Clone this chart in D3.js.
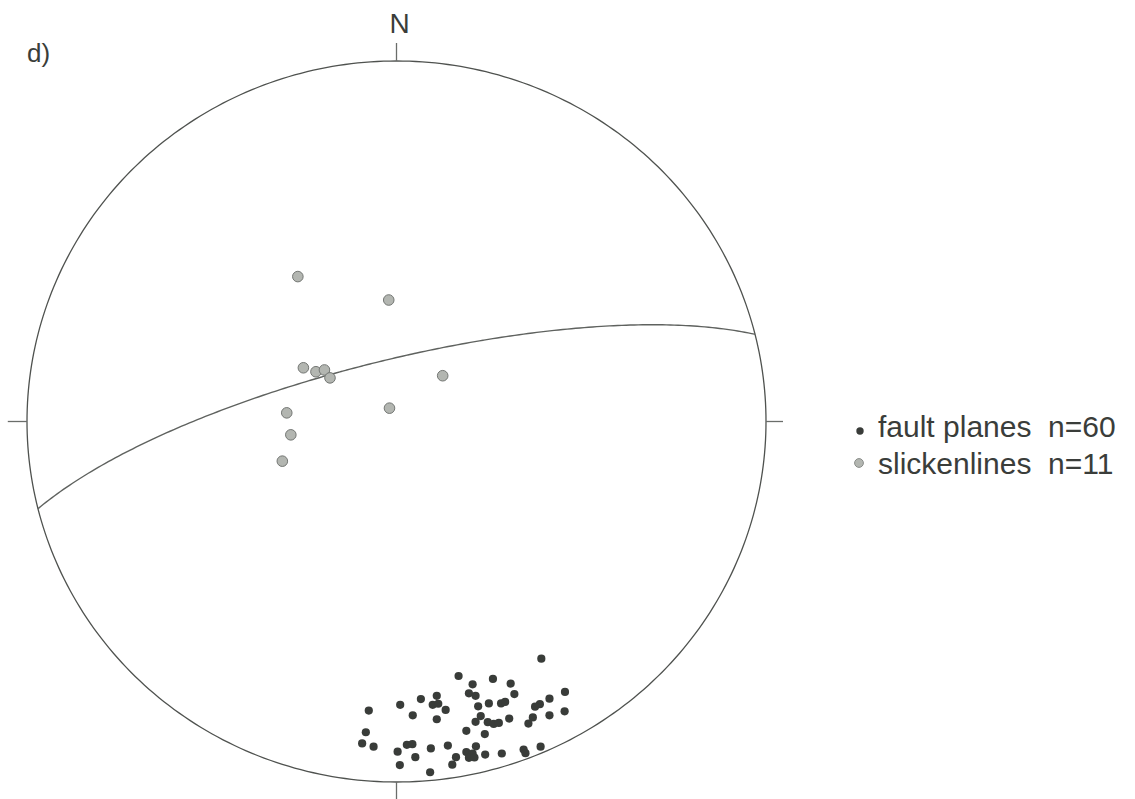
<!DOCTYPE html>
<html>
<head>
<meta charset="utf-8">
<script src="https://cdn.jsdelivr.net/npm/d3@7"></script>
<style>
  html, body { margin: 0; padding: 0; background: #ffffff; }
  svg { display: block; }
  text { font-family: "Liberation Sans", Arial, sans-serif; fill: #3a3d3a; }
</style>
</head>
<body>
<svg id="chart" width="1135" height="799"></svg>
<script>
// Lower-hemisphere equal-area stereonet, coordinates given as projected
// [east, north] positions inside the unit primitive circle.

// Poles to fault planes
const faultPoles = [
  [0.392, -0.658], [0.168, -0.706], [0.261, -0.714], [0.206, -0.729], [0.309, -0.727],
  [0.456, -0.750], [0.196, -0.754], [0.214, -0.761], [0.319, -0.756], [0.109, -0.761],
  [0.066, -0.770], [0.010, -0.786], [0.098, -0.786], [0.113, -0.783], [0.414, -0.769],
  [0.388, -0.784], [0.375, -0.791], [0.250, -0.782], [0.283, -0.782], [0.294, -0.778],
  [0.221, -0.790], [-0.075, -0.802], [0.133, -0.800], [0.455, -0.804], [0.414, -0.815],
  [0.044, -0.815], [0.109, -0.826], [0.228, -0.817], [0.305, -0.824], [0.369, -0.821],
  [0.357, -0.838], [0.214, -0.833], [0.247, -0.834], [0.263, -0.839], [0.277, -0.836],
  [0.189, -0.858], [0.239, -0.867], [-0.083, -0.862], [-0.093, -0.893], [-0.062, -0.902],
  [0.028, -0.897], [0.043, -0.895], [0.093, -0.907], [0.139, -0.899], [0.003, -0.916],
  [0.051, -0.931], [0.161, -0.931], [0.215, -0.901], [0.189, -0.917], [0.206, -0.921],
  [0.196, -0.933], [0.211, -0.932], [0.240, -0.924], [0.285, -0.921], [0.344, -0.910],
  [0.349, -0.920], [0.390, -0.902], [0.009, -0.953], [0.151, -0.952], [0.091, -0.973]
];

// Slickenline lineations
const slickenlines = [
  [-0.267, 0.402], [-0.021, 0.337], [-0.252, 0.149], [-0.218, 0.138], [-0.195, 0.143],
  [-0.180, 0.121], [0.125, 0.127], [-0.297, 0.024], [-0.019, 0.037], [-0.286, -0.037],
  [-0.309, -0.110]
];

// Mean plane drawn as a great circle (dip direction / dip, degrees)
const meanPlane = { dipDirection: 346, dip: 76 };

// Legend entries
const legendLabels = ["fault planes", "slickenlines"];
const legendCounts = ["n=60", "n=11"];

const svg = d3.select("#chart");
const x = d3.scaleLinear().domain([-1, 1]).range([27, 766]);
const y = d3.scaleLinear().domain([-1, 1]).range([782, 61]);
const rad = Math.PI / 180;

// Primitive circle
const ring = d3.range(0, 361, 1).map(a => [Math.sin(a * rad), Math.cos(a * rad)]);
const line = d3.line().x(d => x(d[0])).y(d => y(d[1])).curve(d3.curveLinear);
svg.append("path")
  .attr("d", line(ring))
  .attr("fill", "none")
  .attr("stroke", "#4f524f")
  .attr("stroke-width", 1.3);

// Cardinal ticks
const ticks = [
  { p: [0, 1], q: [0, 1.05] },
  { p: [0, -1], q: [0, -1.05] },
  { p: [-1, 0], q: [-1.052, 0] },
  { p: [1, 0], q: [1.046, 0] }
];
svg.selectAll("line.tick").data(ticks).join("line")
  .attr("class", "tick")
  .attr("x1", d => x(d.p[0])).attr("y1", d => y(d.p[1]))
  .attr("x2", d => x(d.q[0])).attr("y2", d => y(d.q[1]))
  .attr("stroke", "#6a6d6a").attr("stroke-width", 1.3);

svg.append("text")
  .attr("x", x(0) + 3).attr("y", 33)
  .attr("text-anchor", "middle")
  .attr("font-size", 28)
  .text("N");

svg.append("text")
  .attr("x", 27).attr("y", 62)
  .attr("font-size", 26)
  .text("d)");

// Equal-area projection of a line given trend / plunge
function project(trend, plunge) {
  const r = Math.SQRT2 * Math.sin((90 - plunge) / 2 * rad);
  return [r * Math.sin(trend * rad), r * Math.cos(trend * rad)];
}

// Great circle of the mean plane
const strike = meanPlane.dipDirection - 90;
const sVec = [Math.cos(strike * rad), Math.sin(strike * rad), 0];
const dVec = [
  Math.cos(meanPlane.dip * rad) * Math.cos(meanPlane.dipDirection * rad),
  Math.cos(meanPlane.dip * rad) * Math.sin(meanPlane.dipDirection * rad),
  Math.sin(meanPlane.dip * rad)
];
const arc = d3.range(0, 180.5, 1).map(a => {
  const c = Math.cos(a * rad), s = Math.sin(a * rad);
  const v = [c * sVec[0] + s * dVec[0], c * sVec[1] + s * dVec[1], c * sVec[2] + s * dVec[2]];
  const plunge = Math.asin(Math.max(-1, Math.min(1, v[2]))) / rad;
  const trend = Math.atan2(v[1], v[0]) / rad;
  return project(trend, plunge);
});
svg.append("path")
  .attr("d", d3.line().x(d => x(d[0])).y(d => y(d[1])).curve(d3.curveBasis)(arc))
  .attr("fill", "none")
  .attr("stroke", "#5f625f")
  .attr("stroke-width", 1.4);

// Slickenlines
svg.append("g").selectAll("circle").data(slickenlines).join("circle")
  .attr("cx", d => x(d[0])).attr("cy", d => y(d[1]))
  .attr("r", 5.3)
  .attr("fill", "#b3b6b1")
  .attr("stroke", "#747774")
  .attr("stroke-width", 1);

// Fault plane poles
svg.append("g").selectAll("circle").data(faultPoles).join("circle")
  .attr("cx", d => x(d[0])).attr("cy", d => y(d[1]))
  .attr("r", 4.1)
  .attr("fill", "#393c39");

// Legend
const legend = svg.append("g");
const legendY = [437, 474];
legend.append("circle").attr("cx", 860).attr("cy", legendY[0] - 6).attr("r", 3.7).attr("fill", "#393c39");
legend.append("circle").attr("cx", 859).attr("cy", legendY[1] - 11).attr("r", 4.4)
  .attr("fill", "#b3b6b1").attr("stroke", "#8a8d8a").attr("stroke-width", 1);
legendLabels.forEach((t, i) => {
  legend.append("text").attr("x", 878).attr("y", legendY[i]).attr("font-size", 30).text(t);
  legend.append("text").attr("x", 1048).attr("y", legendY[i]).attr("font-size", 30).text(legendCounts[i]);
});
</script>
</body>
</html>
